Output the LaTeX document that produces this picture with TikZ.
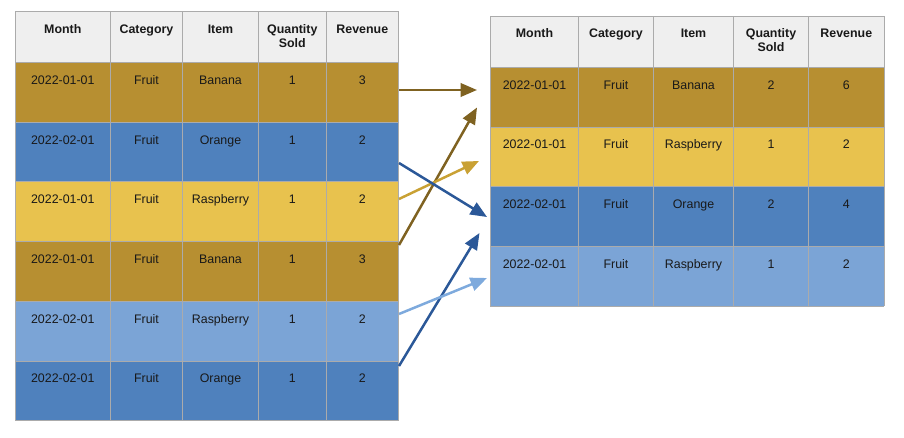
\documentclass[tikz,border=0pt]{standalone}
\usepackage{fontspec}
\setmainfont{Liberation Sans}
\usetikzlibrary{arrows.meta}
\definecolor{hdr}{HTML}{EFEFEF}
\definecolor{gold}{HTML}{B78F31}
\definecolor{yel}{HTML}{E8C24E}
\definecolor{blu}{HTML}{4F81BD}
\definecolor{lblu}{HTML}{7BA4D6}
\definecolor{gridc}{HTML}{ABABAB}
\definecolor{agold}{HTML}{7F6221}
\definecolor{ayel}{HTML}{C9A134}
\definecolor{ablu}{HTML}{2B5898}
\definecolor{albu}{HTML}{7EAADD}
\begin{document}
\begin{tikzpicture}[x=1pt,y=-1pt,
  cell/.style={anchor=base, inner sep=0pt, font=\fontsize{12.4}{14}\selectfont, text=black!90},
  hcell/.style={cell, font=\fontsize{12.4}{14}\selectfont\bfseries, align=center},
  gridline/.style={draw=gridc, line width=0.9pt},
  flow/.style={line width=2.5pt, -{Triangle[length=16.5pt,width=13.5pt]}}]
\useasboundingbox (0,0) rectangle (904,438);
% ---------------- left table ----------------
\fill[hdr] (15.3,11.3) rectangle (398.3,62.3);
\foreach \r/\c/\m/\it/\q/\rv in {1/gold/2022-01-01/Banana/1/3, 2/blu/2022-02-01/Orange/1/2, 3/yel/2022-01-01/Raspberry/1/2, 4/gold/2022-01-01/Banana/1/3, 5/lblu/2022-02-01/Raspberry/1/2, 6/blu/2022-02-01/Orange/1/2}{
  \pgfmathsetmacro{\tp}{62.3+(\r-1)*59.73}
  \fill[\c] (15.3,\tp) rectangle (398.3,\tp+59.73);
  \node[cell] (Lm\r) at (62.8,\tp+22) {\m};
  \node[cell] (Lc\r) at (146.5,\tp+22) {Fruit};
  \node[cell] (Li\r) at (220.5,\tp+22) {\it};
  \node[cell] (Lq\r) at (292.3,\tp+22) {\q};
  \node[cell] (Lr\r) at (362.3,\tp+22) {\rv};
}
\node[hcell] (Lh1) at (62.8,33.3) {Month};
\node[hcell] (Lh2) at (146.5,33.3) {Category};
\node[hcell] (Lh3) at (220.5,33.3) {Item};
\node[hcell] (Lh4) at (292.3,47.3) {Quantity\\Sold};
\node[hcell] (Lh5) at (362.3,33.3) {Revenue};
\foreach \x in {15.3,110.3,182.7,258.3,326.3,398.3}
  \draw[gridline] (\x,11.3) -- (\x,420.7);
\foreach \y in {11.3,62.3,122.03,181.76,241.49,301.22,360.95,420.7}
  \draw[gridline] (15.3,\y) -- (398.3,\y);
% ---------------- right table ----------------
\fill[hdr] (490.3,16) rectangle (884.3,67.3);
\foreach \r/\c/\m/\it/\q/\rv in {1/gold/2022-01-01/Banana/2/6, 2/yel/2022-01-01/Raspberry/1/2, 3/blu/2022-02-01/Orange/2/4, 4/lblu/2022-02-01/Raspberry/1/2}{
  \pgfmathsetmacro{\tp}{67.3+(\r-1)*59.67}
  \fill[\c] (490.3,\tp) rectangle (884.3,\tp+59.67);
  \node[cell] (Rm\r) at (534.5,\tp+22) {\m};
  \node[cell] (Rc\r) at (616,\tp+22) {Fruit};
  \node[cell] (Ri\r) at (693.5,\tp+22) {\it};
  \node[cell] (Rq\r) at (771,\tp+22) {\q};
  \node[cell] (Rr\r) at (846.3,\tp+22) {\rv};
}
\node[hcell] (Rh1) at (534.5,38) {Month};
\node[hcell] (Rh2) at (616,38) {Category};
\node[hcell] (Rh3) at (693.5,38) {Item};
\node[hcell] (Rh4) at (771,52) {Quantity\\Sold};
\node[hcell] (Rh5) at (846.3,38) {Revenue};
\foreach \x in {490.3,578.7,653.3,733.7,808.3,884.3}
  \draw[gridline] (\x,16) -- (\x,306);
\foreach \y in {16,67.3,126.97,186.64,246.31,306}
  \draw[gridline] (490.3,\y) -- (884.3,\y);
% ---------------- arrows ----------------
\coordinate (s1) at (399,90);
\coordinate (s2) at (399,245);
\coordinate (s3) at (399,199);
\coordinate (s4) at (399,163);
\coordinate (s5) at (399,366);
\coordinate (s6) at (399,314);
\coordinate (t1) at (477,90);
\coordinate (t2) at (477,107.5);
\coordinate (t3) at (479,161);
\coordinate (t4) at (487,217);
\coordinate (t5) at (479.5,233);
\coordinate (t6) at (487,278);
\draw[flow, agold] (s1) -- (t1);
\draw[flow, agold] (s2) -- (t2);
\draw[flow, ayel] (s3) -- (t3);
\draw[flow, ablu] (s4) -- (t4);
\draw[flow, ablu] (s5) -- (t5);
\draw[flow, albu] (s6) -- (t6);
\end{tikzpicture}
\end{document}
